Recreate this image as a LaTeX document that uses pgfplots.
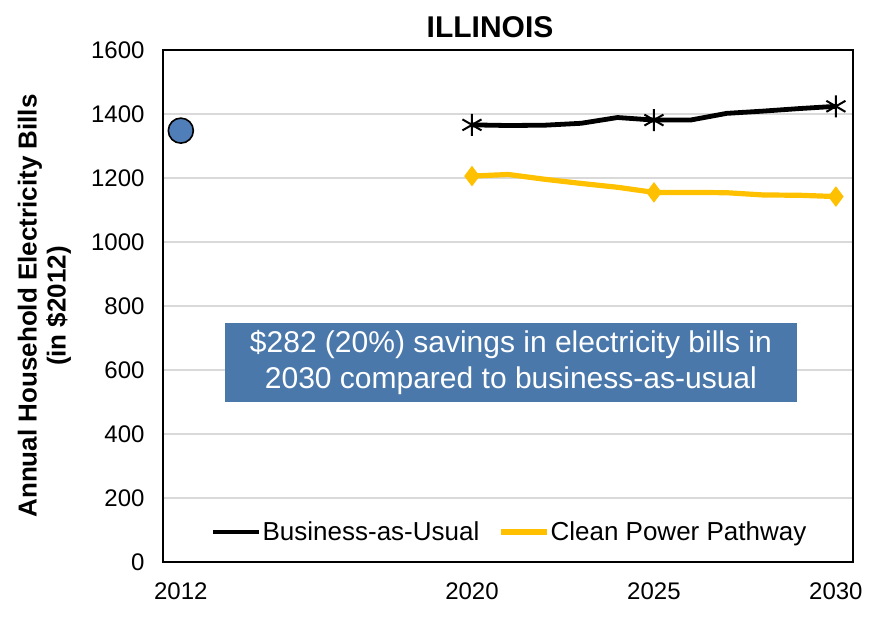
\documentclass[border=0pt]{standalone}
\usepackage{pgfplots}
\pgfplotsset{compat=1.18}
\usepackage{fontspec}
\setmainfont{Liberation Sans}
\definecolor{gold}{HTML}{FFC000}
\definecolor{boxblue}{HTML}{4A78AB}
\definecolor{dotblue}{HTML}{4F7EB8}
\definecolor{gridgray}{HTML}{D9D9D9}
\begin{document}
\begin{tikzpicture}
\useasboundingbox (0,0) rectangle (882pt,622pt);
\begin{axis}[
  at={(163pt,60pt)}, anchor=south west,
  scale only axis, width=690pt, height=512pt,
  xmin=2011.51, xmax=2030.47, ymin=0, ymax=1600,
  xtick={2012,2020,2025,2030},
  ytick={0,200,...,1600},
  major tick length=0pt,
  /pgf/number format/assume math mode=true,
  /pgf/number format/1000 sep={},
  ticklabel style={font=\fontsize{24}{28}\selectfont},
  yticklabel style={xshift=-15pt},
  xticklabel style={yshift=-17pt},
  ymajorgrids, grid style={gridgray, line width=1.5pt},
  axis line style={black, line width=1.8pt},
  clip=false,
  title={ILLINOIS},
  title style={font=\bfseries\fontsize{30}{34}\selectfont, at={(0.474,1)}, anchor=south, yshift=3pt},
  ylabel={Annual Household Electricity Bills\\(in \$2012)},
  ylabel style={font=\bfseries\fontsize{26}{29}\selectfont, align=center, at={(axis description cs:-0.172,0.5)}, anchor=center},
  legend style={at={(axis cs:2021.02,94)}, anchor=center, draw=none, fill=none,
    font=\fontsize{26}{30}\selectfont, legend columns=2,
    nodes={inner sep=1pt},
    /tikz/every even column/.append style={column sep=18pt}},
  legend image code/.code={\draw[#1, mark=none] (0pt,0pt) -- (46pt,0pt);},
]
\addplot[black, line width=4.8pt, mark=asterisk, mark indices={1,6,11},
  mark options={line width=2pt, scale=1}, mark size=11pt]
  coordinates {(2020,1366) (2021,1364) (2022,1365) (2023,1371) (2024,1389) (2025,1381) (2026,1381) (2027,1402) (2028,1409) (2029,1417) (2030,1424)};
\addlegendentry{Business-as-Usual}
\addplot[gold, line width=5.2pt, mark=diamond*, mark indices={1,6,11},
  mark options={line width=1pt, fill=gold}, mark size=9.5pt]
  coordinates {(2020,1206) (2021,1211) (2022,1196) (2023,1183) (2024,1171) (2025,1155) (2026,1155) (2027,1154) (2028,1147) (2029,1146) (2030,1142)};
\addlegendentry{Clean Power Pathway}
\addplot[only marks, mark=*, mark size=12.5pt, mark options={fill=dotblue, draw=black, line width=1.6pt}, forget plot]
  coordinates {(2012,1348)};
\node[fill=boxblue, text=white, align=center, minimum width=572pt, minimum height=79pt, inner sep=2pt,
  font=\fontsize{30}{36}\selectfont] at (axis cs:2021.07,623)
  {\$282 (20\%) savings in electricity bills in\\2030 compared to business-as-usual};
\end{axis}
\end{tikzpicture}
\end{document}
